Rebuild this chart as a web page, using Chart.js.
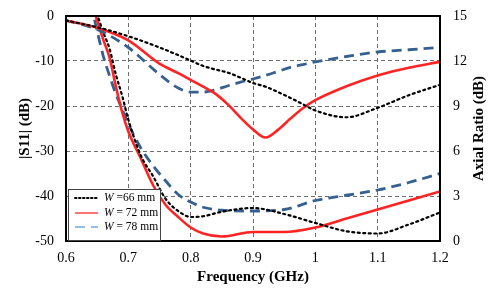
<!DOCTYPE html>
<html>
<head>
<meta charset="utf-8">
<script src="https://cdn.jsdelivr.net/npm/chart.js@4"></script>
<style>
  html, body { margin: 0; padding: 0; background: #fff; }
  #wrap { width: 489px; height: 289px; }
</style>
</head>
<body>
<div id="wrap"><canvas id="chart"></canvas></div>
<script>
// |S11| (left axis, dB)
const s11Freq = [0.6, 0.65, 0.7, 0.75, 0.78, 0.8, 0.82, 0.84, 0.86, 0.88, 0.9, 0.92, 0.94, 0.96, 0.98, 1.0, 1.05, 1.1, 1.15, 1.2];
const s11W66 = [-1, -2.5, -4.5, -7, -8.7, -9.9, -11.1, -11.9, -12.6, -13.7, -14.9, -15.7, -16.9, -18.2, -19.6, -21, -22.5, -20.4, -17.6, -15.3];
const s11W72 = [-1, -2.6, -5.4, -10.6, -12.7, -14.2, -15.7, -17.3, -19.7, -22.6, -25.2, -27, -25.3, -22.8, -20.5, -18.7, -15.6, -13.2, -11.5, -10.2];
const s11W78 = [-1, -3, -7, -13, -16, -16.9, -16.9, -16.4, -15.5, -14.7, -14, -13.2, -12.3, -11.4, -10.8, -10.2, -9, -8, -7.5, -7];

// Axial ratio (right axis, dB)
const arFreq = [0.64, 0.65, 0.66, 0.67, 0.68, 0.69, 0.7, 0.72, 0.74, 0.76, 0.78, 0.8, 0.82, 0.85, 0.9, 0.95, 1.0, 1.05, 1.1, 1.15, 1.2];
const arW66 = [16.2, 15.1, 13.9, 12.8, 11.1, 9.7, 8.1, 5.7, 4.3, 2.8, 2.0, 1.6, 1.65, 1.95, 2.2, 1.8, 1.2, 0.65, 0.5, 1.1, 1.9];
const arW72 = [16, 14.7, 13.4, 12.2, 10.3, 8.6, 7.3, 5.5, 3.7, 2.4, 1.6, 0.9, 0.5, 0.3, 0.6, 0.6, 0.9, 1.5, 2.1, 2.7, 3.3];
const arW78 = [15.8, 14.0, 12.3, 11.0, 9.8, 8.8, 7.8, 6.2, 5.0, 4.0, 3.1, 2.6, 2.25, 2.05, 2.0, 2.1, 2.7, 3.05, 3.4, 3.9, 4.5];

const xTicks = [0.6, 0.7, 0.8, 0.9, 1, 1.1, 1.2];
const legendNames = ['=66 mm', '= 72 mm', '= 78 mm'];

const RED = '#ff2424';
const BLUE = '#35608f';
const serif = "'Liberation Serif', 'Times New Roman', serif";

const pts = (xs, ys) => xs.map((x, i) => ({ x: x, y: ys[i] }));

const styles = [
  { color: '#000', width: 2.2, dash: [2, 3.5], cap: 'round', legendColor: '#000' },
  { color: RED, width: 2.6, dash: [], cap: 'butt', legendColor: '#ff5050' },
  { color: BLUE, width: 2.8, dash: [10, 6], cap: 'butt', legendColor: '#6fa8dc' }
];

function ds(data, st, axis) {
  return {
    data: data, yAxisID: axis,
    borderColor: st.color, borderWidth: st.width, borderDash: st.dash,
    borderCapStyle: st.cap, pointRadius: 0,
    cubicInterpolationMode: 'monotone', fill: false
  };
}

const frameAndLegend = {
  id: 'frameAndLegend',
  afterDatasetsDraw(chart) {
    const { ctx, chartArea: a } = chart;
    ctx.save();
    ctx.strokeStyle = '#000';
    ctx.lineWidth = 2;
    ctx.setLineDash([]);
    ctx.strokeRect(a.left, a.top, a.right - a.left, a.bottom - a.top);

    // legend box
    const bx = 68, by = 189, bw = 92, bh = 51;
    ctx.fillStyle = '#fff';
    ctx.fillRect(bx, by, bw, bh);
    ctx.strokeStyle = '#444';
    ctx.lineWidth = 1;
    ctx.strokeRect(bx + 0.5, by + 0.5, bw, bh);
    const rows = [198, 213, 227];
    rows.forEach((ry, i) => {
      const st = styles[i];
      ctx.beginPath();
      ctx.strokeStyle = st.legendColor;
      ctx.lineWidth = i === 0 ? 2 : 1.6;
      ctx.lineCap = st.cap;
      ctx.setLineDash(i === 0 ? [1.5, 2.5] : st.dash);
      ctx.moveTo(75, ry);
      ctx.lineTo(98, ry);
      ctx.stroke();
      ctx.setLineDash([]);
      ctx.fillStyle = '#000';
      ctx.textBaseline = 'middle';
      ctx.font = 'italic 11.5px ' + serif;
      ctx.fillText('W', 104, ry);
      const w = ctx.measureText('W').width;
      ctx.font = '11.5px ' + serif;
      ctx.fillText(' ' + legendNames[i], 104 + w, ry);
    });

    // right axis title, reading bottom to top
    ctx.save();
    ctx.translate(479, (a.top + a.bottom) / 2);
    ctx.rotate(-Math.PI / 2);
    ctx.font = 'bold 15px ' + serif;
    ctx.textAlign = 'center';
    ctx.textBaseline = 'middle';
    ctx.fillStyle = '#000';
    ctx.fillText('Axial Ratio (dB)', 0, 0);
    ctx.restore();
    ctx.restore();
  }
};

new Chart(document.getElementById('chart'), {
  type: 'line',
  data: {
    datasets: [
      ds(pts(s11Freq, s11W66), styles[0], 'y'),
      ds(pts(s11Freq, s11W72), styles[1], 'y'),
      ds(pts(s11Freq, s11W78), styles[2], 'y'),
      ds(pts(arFreq, arW66), styles[0], 'y2'),
      ds(pts(arFreq, arW72), styles[1], 'y2'),
      ds(pts(arFreq, arW78), styles[2], 'y2')
    ]
  },
  options: {
    responsive: true,
    maintainAspectRatio: false,
    animation: false,
    layout: { padding: { top: 16, left: 0, right: 0, bottom: 0 } },
    plugins: { legend: { display: false }, tooltip: { enabled: false } },
    scales: {
      x: {
        type: 'linear', min: 0.6, max: 1.2,
        afterBuildTicks: s => { s.ticks = xTicks.map(v => ({ value: v })); },
        afterFit: s => { s.height = 48; s.paddingLeft = 0; s.paddingRight = 0; },
        ticks: {
          callback: v => String(+v.toFixed(1)),
          color: '#000', font: { family: serif, size: 14 }, padding: 9, maxRotation: 0
        },
        grid: { color: '#6e6e6e', lineWidth: 1, drawTicks: false, borderDash: [4, 3] },
        border: { display: true, width: 0, dash: [4, 3] },
        title: {
          display: true, text: 'Frequency (GHz)', color: '#000',
          font: { family: serif, size: 15, weight: 'bold' }, padding: { top: 0, bottom: 3 }
        }
      },
      y: {
        position: 'left', min: -50, max: 0,
        afterFit: s => { s.width = 66; s.paddingTop = 0; s.paddingBottom = 0; },
        ticks: { stepSize: 10, color: '#000', font: { family: serif, size: 14 }, padding: 12 },
        grid: { color: '#6e6e6e', lineWidth: 1, drawTicks: false, borderDash: [4, 3] },
        border: { display: true, width: 0, dash: [4, 3] },
        title: {
          display: true, text: '|S11| (dB)', color: '#000',
          font: { family: serif, size: 15, weight: 'bold' }, padding: { top: 16, bottom: 0 }
        }
      },
      y2: {
        position: 'right', min: 0, max: 15,
        afterFit: s => { s.width = 49; s.paddingTop = 0; s.paddingBottom = 0; },
        ticks: { stepSize: 3, color: '#000', font: { family: serif, size: 14 }, padding: 13 },
        grid: { drawOnChartArea: false, drawTicks: false },
        border: { display: false }
      }
    }
  },
  plugins: [frameAndLegend]
});
</script>
</body>
</html>
